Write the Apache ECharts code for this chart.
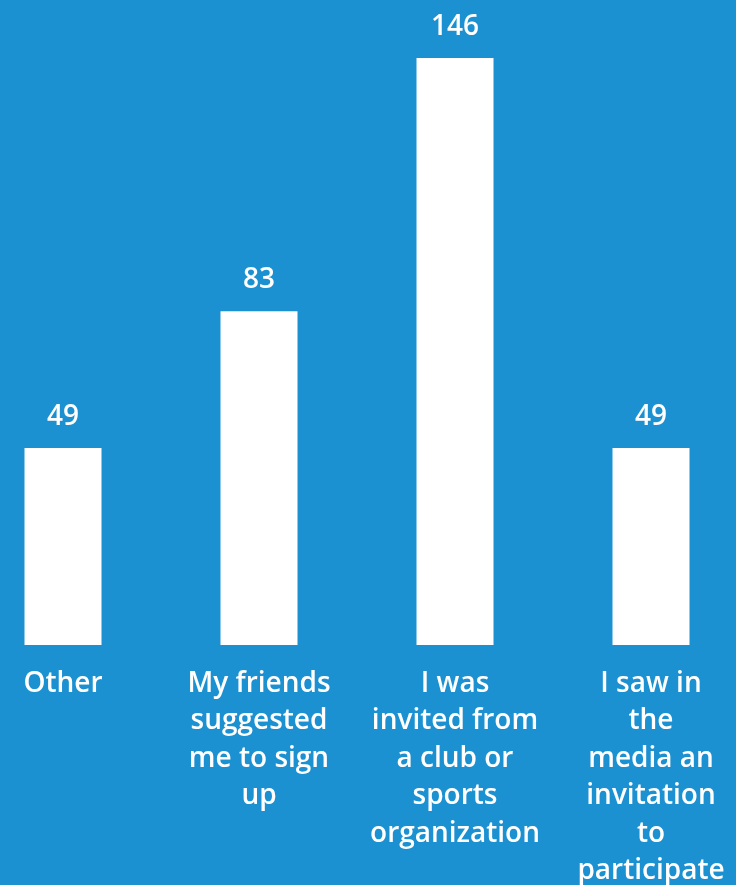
<!DOCTYPE html>
<html>
<head>
<meta charset="utf-8">
<script src="https://cdn.jsdelivr.net/npm/echarts@6/dist/echarts.min.js"></script>
<style>html,body{margin:0;padding:0;background:#1b91d1;}#c{width:736px;height:885px;}</style>
</head>
<body>
<div id="c"></div>
<script>
const categories = ["Other", "My friends\nsuggested\nme to sign\nup", "I was\ninvited from\na club or\nsports\norganization", "I saw in\nthe\nmedia an\ninvitation\nto\nparticipate"];
const values = [49, 83, 146, 49];

const chart = echarts.init(document.getElementById('c'), null, {renderer: 'canvas'});
chart.setOption({
  backgroundColor: '#1b91d1',
  animation: false,
  grid: {left: -35, right: -13, top: 58, bottom: 240, containLabel: false, outerBoundsMode: 'none'},
  xAxis: {
    type: 'category',
    data: categories,
    axisLine: {show: false},
    axisTick: {show: false},
    axisLabel: {
      color: '#ffffff', fontFamily: 'Open Sans', fontSize: 28, fontWeight: 600,
      lineHeight: 37.5, margin: 20, interval: 0, verticalAlign: 'top', hideOverlap: false
    }
  },
  yAxis: {type: 'value', min: 0, max: 146, show: false, splitLine: {show: false}},
  series: [{
    type: 'bar',
    data: values,
    barWidth: 77,
    itemStyle: {color: '#ffffff'},
    label: {show: true, position: 'top', distance: 17, color: '#ffffff', fontFamily: 'Open Sans', fontSize: 28, fontWeight: 600}
  }]
});
</script>
</body>
</html>
